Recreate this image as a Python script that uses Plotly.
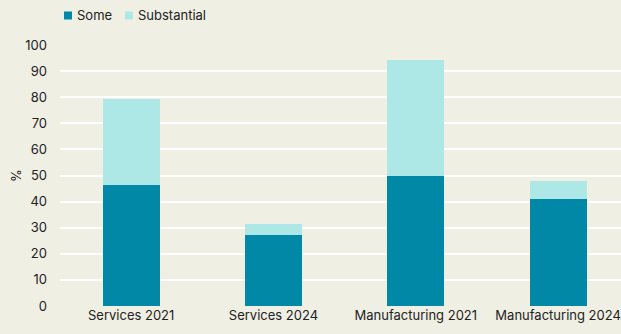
import plotly.graph_objects as go

categories = ["Services 2021", "Services 2024", "Manufacturing 2021", "Manufacturing 2024"]
some = [46.5, 27.3, 49.8, 41.0]
substantial = [33.0, 4.2, 44.3, 7.0]
y_ticks = [0, 10, 20, 30, 40, 50, 60, 70, 80, 90, 100]

BG = "#F0EFE4"
FONT = "Inter, Roboto, sans-serif"
C_SOME = "#0088A6"
C_SUB = "#AEE8E6"

fig = go.Figure()
fig.add_bar(x=categories, y=some, name="Some", marker=dict(color=C_SOME, line=dict(width=0)), width=0.4)
fig.add_bar(x=categories, y=substantial, name="Substantial", marker=dict(color=C_SUB, line=dict(width=0)), width=0.4)

# custom compact legend (plot area: x 60..621 px, y 45..306 px)
def px_x(p):
    return (p - 60) / 561.0

def px_y(p):
    return (306 - p) / 261.0

legend_items = [("Some", C_SOME, 64), ("Substantial", C_SUB, 125)]
for label, color, x0 in legend_items:
    fig.add_shape(type="rect", xref="paper", yref="paper",
                  x0=px_x(x0), x1=px_x(x0 + 8), y0=px_y(19.5), y1=px_y(11.5),
                  fillcolor=color, line=dict(width=0))
    fig.add_annotation(xref="paper", yref="paper", x=px_x(x0 + 10.5), y=px_y(15.5),
                       text=label, showarrow=False, xanchor="left", yanchor="middle",
                       font=dict(size=13, color="#222222", family=FONT))

fig.update_layout(
    barmode="stack",
    width=621, height=334,
    margin=dict(l=60, r=0, t=45, b=28),
    paper_bgcolor=BG, plot_bgcolor=BG,
    font=dict(family=FONT, size=13, color="#222222"),
    showlegend=False,
    xaxis=dict(range=[-0.5, 3.442], showgrid=False, zeroline=False, showline=False,
               ticks="", tickfont=dict(size=13)),
    yaxis=dict(range=[0, 100], tickvals=y_ticks, showgrid=True, gridcolor="#FFFFFF", gridwidth=2,
               zeroline=False, showline=False, ticks="", tickfont=dict(size=13), ticklabelstandoff=12,
               title=dict(text="%", font=dict(size=13), standoff=0)),
    bargap=0.6,
)

fig.write_html("out.html")
